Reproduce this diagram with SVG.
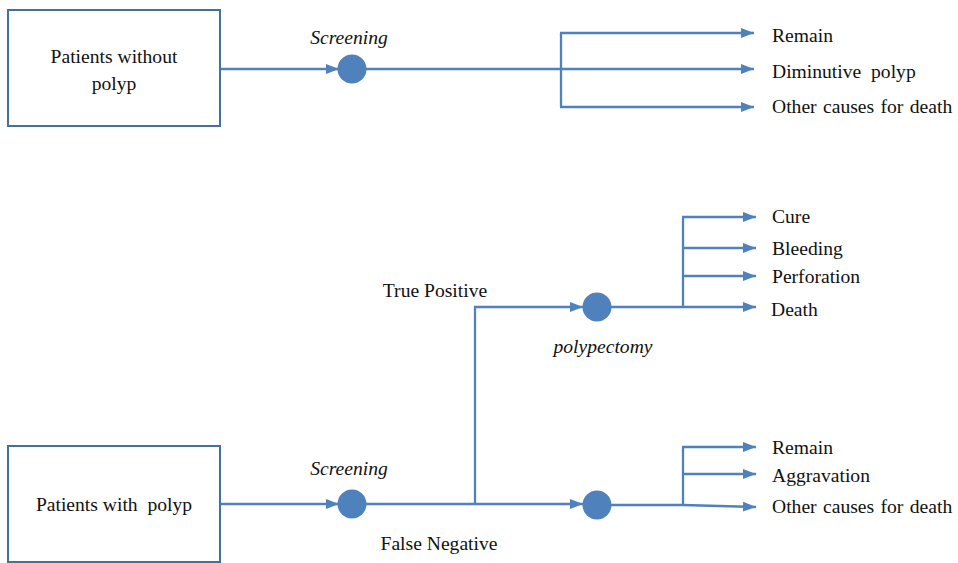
<svg xmlns="http://www.w3.org/2000/svg" width="958" height="563" viewBox="0 0 958 563">
  <style>
    .t { font-size: 19.6px; fill: #111; }
    .it { font-style: italic; }
    .box { fill: #fff; stroke: #41719c; stroke-width: 2; }
    .dot { fill: #4f81bd; }
    .ln { fill: none; stroke: #4f81bd; stroke-width: 2.3; }
    .arr { marker-end: url(#head); }
  </style>
  <defs>
    <marker id="head" markerUnits="userSpaceOnUse" markerWidth="14" markerHeight="12" refX="13" refY="5.5" orient="auto">
      <path d="M0,0.5 L13,5.5 L0,10.5 z" fill="#4f81bd"/>
    </marker>
  </defs>
  <rect width="958" height="563" fill="#fff"/>

  <!-- connectors -->
  <g id="connectors">
    <!-- upper tree -->
    <line class="ln arr" x1="221" y1="69" x2="339" y2="69"/>
    <line class="ln arr" x1="366" y1="69" x2="754" y2="69"/>
    <polyline class="ln" points="561,69 561,33"/>
    <polyline class="ln" points="561,69 561,107"/>
    <line class="ln arr" x1="560" y1="33" x2="754" y2="33"/>
    <line class="ln arr" x1="560" y1="107" x2="754" y2="107"/>

    <!-- lower tree: screening -->
    <line class="ln arr" x1="221" y1="504" x2="339" y2="504"/>
    <line class="ln arr" x1="366" y1="504" x2="583" y2="504"/>
    <polyline class="ln arr" points="475,504 475,307 583,307"/>

    <!-- polypectomy outcomes -->
    <line class="ln arr" x1="611" y1="307" x2="756" y2="307"/>
    <polyline class="ln" points="683,307 683,217"/>
    <line class="ln arr" x1="682" y1="217" x2="756" y2="217"/>
    <line class="ln arr" x1="683" y1="248" x2="756" y2="248"/>
    <line class="ln arr" x1="683" y1="276" x2="756" y2="276"/>

    <!-- false negative outcomes -->
    <polyline class="ln arr" points="611,505 683,505 756,507"/>
    <polyline class="ln" points="683,505 683,447"/>
    <line class="ln arr" x1="682" y1="447" x2="756" y2="447"/>
    <line class="ln arr" x1="683" y1="474" x2="756" y2="474"/>
  </g>

  <g font-family="Liberation Serif, serif">
  <!-- upper tree nodes -->
  <g id="patients-without-polyp">
    <rect class="box" x="8" y="10" width="212" height="116"/>
    <text class="t" x="114" y="63" text-anchor="middle">Patients without</text>
    <text class="t" x="114" y="90" text-anchor="middle">polyp</text>
  </g>
  <g id="screening-1">
    <circle class="dot" cx="352" cy="69" r="14.5"/>
    <text class="t it" x="349" y="44" text-anchor="middle">Screening</text>
  </g>
  <g id="outcome-remain-1"><text class="t" x="772" y="42">Remain</text></g>
  <g id="outcome-diminutive"><text class="t" x="772" y="78" xml:space="preserve">Diminutive  polyp</text></g>
  <g id="outcome-other-death-1"><text class="t" x="772" y="113" word-spacing="1.5">Other causes for death</text></g>

  <!-- lower tree nodes -->
  <g id="patients-with-polyp">
    <rect class="box" x="8" y="446" width="212" height="116"/>
    <text class="t" x="114" y="511" text-anchor="middle" xml:space="preserve">Patients with  polyp</text>
  </g>
  <g id="screening-2">
    <circle class="dot" cx="352" cy="504" r="14.5"/>
    <text class="t it" x="349" y="475" text-anchor="middle">Screening</text>
  </g>
  <g id="label-true-positive"><text class="t" x="435" y="297" text-anchor="middle">True Positive</text></g>
  <g id="label-false-negative"><text class="t" x="439" y="550" text-anchor="middle">False Negative</text></g>
  <g id="polypectomy">
    <circle class="dot" cx="597" cy="307" r="14.5"/>
    <text class="t it" x="603" y="353" text-anchor="middle">polypectomy</text>
  </g>
  <g id="no-treatment">
    <circle class="dot" cx="597" cy="505" r="14.5"/>
  </g>
  <g id="outcome-cure"><text class="t" x="772" y="223">Cure</text></g>
  <g id="outcome-bleeding"><text class="t" x="772" y="255">Bleeding</text></g>
  <g id="outcome-perforation"><text class="t" x="772" y="283">Perforation</text></g>
  <g id="outcome-death"><text class="t" x="771" y="316">Death</text></g>
  <g id="outcome-remain-2"><text class="t" x="772" y="454">Remain</text></g>
  <g id="outcome-aggravation"><text class="t" x="772" y="482">Aggravation</text></g>
  <g id="outcome-other-death-2"><text class="t" x="772" y="513" word-spacing="1.5">Other causes for death</text></g>
  </g>
</svg>
